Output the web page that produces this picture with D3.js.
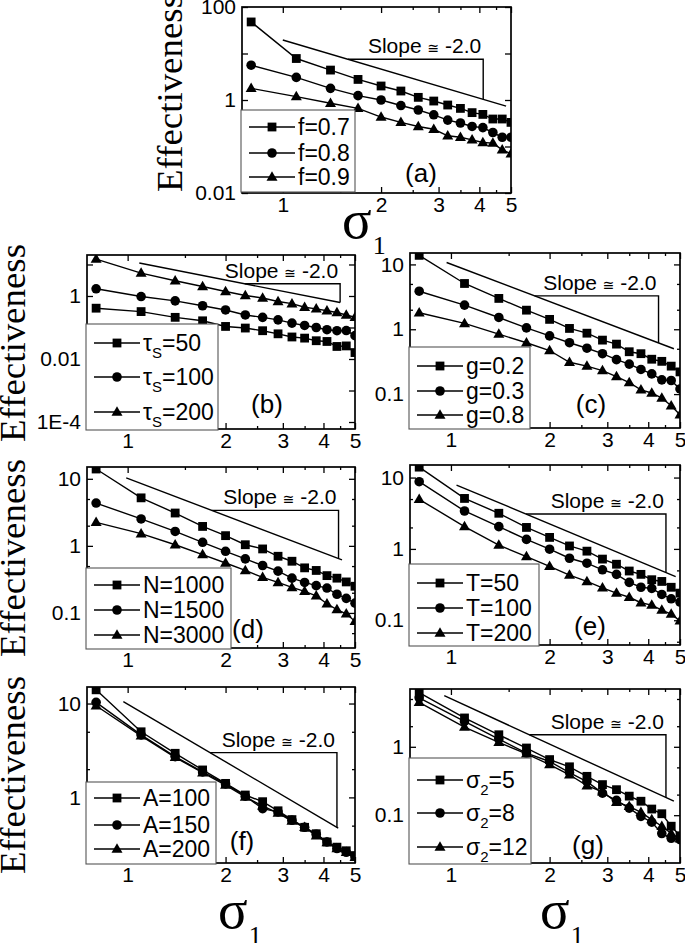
<!DOCTYPE html>
<html><head><meta charset="utf-8">
<script src="https://cdn.jsdelivr.net/npm/d3@7"></script>
<style>body{margin:0;background:#fff}svg{display:block}</style>
</head><body><svg id="c" width="685" height="943"></svg>
<script>
// ---------- data ----------
const SIGMA1 = [0.8,1.1,1.4,1.7,2.0,2.3,2.6,2.9,3.2,3.5,3.8,4.1,4.4,4.7,5.0];
const xTickValues = [1,2,3,4,5];
const xTickLabels = ["1","2","3","4","5"];
const xMinorValues = [1.5,2.5,3.5,4.5];
const slopeText = ["Slope ", "\u2245", " -2.0"];

// (a)
const aF07 = [47.7,7.8,4.4,2.77,2.0,1.56,1.14,0.95,0.78,0.66,0.535,0.49,0.39,0.39,0.33];
const aF08 = [5.6,3.06,1.78,1.24,1.0,0.76,0.61,0.48,0.37,0.32,0.27,0.255,0.20,0.158,0.158];
const aF09 = [1.78,1.18,0.85,0.66,0.43,0.33,0.27,0.235,0.17,0.158,0.139,0.122,0.118,0.085,0.07];
const legendA = ["f=0.7","f=0.8","f=0.9"];
const yTicksA = [100,1,0.01], yTickLabelsA = ["100","1","0.01"];
const slopeA = [1.0,19.5,4.83,0.74,4.11,7.5];

// (b)
const bTau50  = [0.41,0.32,0.21,0.163,0.108,0.096,0.079,0.063,0.050,0.046,0.038,0.036,0.025,0.026,0.016];
const bTau100 = [1.69,0.96,0.70,0.49,0.36,0.25,0.21,0.175,0.138,0.116,0.10,0.085,0.079,0.08,0.055];
const bTau200 = [14.8,5.3,3.04,2.0,1.39,1.04,0.86,0.67,0.57,0.44,0.39,0.34,0.30,0.25,0.21];
const legendB = ["\u03c4_S=50","\u03c4_S=100","\u03c4_S=200"];
const yTicksB = [1,0.01,1e-4], yTickLabelsB = ["1","0.01","1E-4"];
const slopeB = [1.086,11.1,4.5,0.62,4.5,2.44];

// (c)
const cG02 = [13.8,5.08,2.99,1.97,1.42,1.03,0.87,0.68,0.59,0.45,0.42,0.345,0.32,0.27,0.22];
const cG03 = [3.86,2.36,1.52,1.05,0.79,0.62,0.51,0.42,0.34,0.29,0.24,0.205,0.166,0.162,0.12];
const cG08 = [1.80,1.23,0.84,0.62,0.47,0.31,0.27,0.23,0.186,0.151,0.116,0.104,0.087,0.066,0.048];
const legendC = ["g=0.2","g=0.3","g=0.8"];
const yTicksC = [10,1,0.1], yTickLabelsC = ["10","1","0.1"];
const slopeC = [0.97,10.7,4.79,0.50,4.30,3.27];

// (d)
const dN1000 = [14.0,5.2,3.09,1.95,1.42,1.04,0.90,0.70,0.59,0.47,0.43,0.36,0.33,0.29,0.25];
const dN1500 = [4.35,2.52,1.64,1.13,0.83,0.64,0.51,0.42,0.33,0.285,0.255,0.235,0.19,0.165,0.14];
const dN3000 = [2.24,1.52,1.04,0.74,0.555,0.43,0.34,0.285,0.24,0.21,0.18,0.137,0.112,0.097,0.075];
const legendD = ["N=1000","N=1500","N=3000"];
const yTicksD = [10,1,0.1], yTickLabelsD = ["10","1","0.1"];
const slopeD = [0.99,10.3,4.56,0.62,4.45,3.38];

// (e)
const eT50  = [14.0,5.1,3.16,2.0,1.45,1.10,0.93,0.72,0.61,0.49,0.44,0.37,0.35,0.29,0.24];
const eT100 = [8.75,3.4,2.05,1.36,0.99,0.74,0.63,0.51,0.44,0.34,0.29,0.28,0.23,0.20,0.18];
const eT200 = [4.96,2.05,1.13,0.78,0.57,0.43,0.35,0.285,0.24,0.21,0.176,0.163,0.139,0.122,0.098];
const legendE = ["T=50","T=100","T=200"];
const yTicksE = [10,1,0.1], yTickLabelsE = ["10","1","0.1"];
const slopeE = [1.04,7.86,4.85,0.41,4.53,3.08];

// (f)
const fA100 = [14.0,5.0,2.95,1.96,1.41,1.06,0.90,0.72,0.58,0.48,0.41,0.335,0.295,0.27,0.24];
const fA150 = [10.3,4.64,2.72,1.87,1.39,1.03,0.76,0.70,0.57,0.48,0.405,0.335,0.285,0.26,0.235];
const fA200 = [9.46,4.52,2.67,1.83,1.35,1.01,0.81,0.68,0.56,0.48,0.39,0.33,0.285,0.26,0.23];
const legendF = ["A=100","A=150","A=200"];
const yTicksF = [10,1], yTickLabelsF = ["10","1"];
const slopeF = [0.97,10.5,4.44,0.47,4.40,3.0];

// (g)
const gS5  = [6.2,2.64,1.5,0.96,0.65,0.51,0.37,0.28,0.236,0.19,0.16,0.123,0.105,0.069,0.050];
const gS8  = [5.2,2.35,1.30,0.81,0.61,0.42,0.31,0.21,0.165,0.127,0.096,0.079,0.054,0.046,0.044];
const gS12 = [4.46,1.94,1.16,0.79,0.55,0.39,0.27,0.22,0.154,0.135,0.11,0.086,0.069,0.054,0.045];
const legendG = ["\u03c3_2=5","\u03c3_2=8","\u03c3_2=12"];
const yTicksG = [1,0.1], yTickLabelsG = ["1","0.1"];
const slopeG = [0.954,5.6,4.79,0.16,4.53,1.5];

// ---------- layout ----------
const panels = [
 {key:"a", series:[aF07,aF08,aF09], legend:legendA, yt:yTicksA, ytl:yTickLabelsA, slope:slopeA,
  box:[242,7,511,193], yDomain:[0.01,100], minor:false, leg:[241,110,114,82], rows:[17,43,67],
  letter:[421,182], ylab:[182,93], sigma:[342,238]},
 {key:"b", series:[bTau50,bTau100,bTau200], legend:legendB, yt:yTicksB, ytl:yTickLabelsB, slope:slopeB,
  box:[87,255,355,429], yDomain:[6e-5,20], minor:false, leg:[86,324,132,106], rows:[19,53,88],
  letter:[267,413], ylab:[25,343]},
 {key:"c", series:[cG02,cG03,cG08], legend:legendC, yt:yTicksC, ytl:yTickLabelsC, slope:slopeC,
  box:[410,253,680,428], yDomain:[0.03,15], minor:true, leg:[409,347,121,82], rows:[19,44,68],
  letter:[591,413]},
 {key:"d", series:[dN1000,dN1500,dN3000], legend:legendD, yt:yTicksD, ytl:yTickLabelsD, slope:slopeD,
  box:[87,467,355,648], yDomain:[0.03,15], minor:true, leg:[86,568,145,81], rows:[17,42,67],
  letter:[248,638], ylab:[25,558]},
 {key:"e", series:[eT50,eT100,eT200], legend:legendE, yt:yTicksE, ytl:yTickLabelsE, slope:slopeE,
  box:[410,465,680,645], yDomain:[0.045,15], minor:true, leg:[409,564,130,82], rows:[19,44,69],
  letter:[590,635]},
 {key:"f", series:[fA100,fA150,fA200], legend:legendF, yt:yTicksF, ytl:yTickLabelsF, slope:slopeF,
  box:[87,687,355,863], yDomain:[0.2,15], minor:true, leg:[86,782,130,82], rows:[16,43,67],
  letter:[242,850], ylab:[25,775], sigma:[218,928]},
 {key:"g", series:[gS5,gS8,gS12], legend:legendG, yt:yTicksG, ytl:yTickLabelsG, slope:slopeG,
  box:[410,689,680,863], yDomain:[0.02,7], minor:true, leg:[409,758,122,106], rows:[22,55,89],
  letter:[588,854], sigma:[540,928]}
];

const SANS = "'Liberation Sans', Arial, Helvetica, sans-serif";
const SERIF = "'Liberation Serif', 'Times New Roman', serif";
const shapes = ["square","circle","triangle"];
const svg = d3.select("#c");
const defs = svg.append("defs");

function marker(g, shape, cx, cy) {
  if (shape === "square") {
    g.append("rect").attr("x",cx-4.4).attr("y",cy-4.4).attr("width",8.8).attr("height",8.8).attr("fill","#000");
  } else if (shape === "circle") {
    g.append("circle").attr("cx",cx).attr("cy",cy).attr("r",4.8).attr("fill","#000");
  } else {
    g.append("path").attr("d",`M${cx},${cy-5.8}L${cx+5.5},${cy+3.7}L${cx-5.5},${cy+3.7}Z`).attr("fill","#000");
  }
}

function labelText(sel, str, size, subSize) {
  const m = str.match(/^(.*?)_(.)(.*)$/);
  if (!m) { sel.text(str); return; }
  sel.append("tspan").text(m[1]);
  sel.append("tspan").attr("font-size",subSize).attr("dy",7).text(m[2]);
  sel.append("tspan").attr("font-size",size).attr("dy",-7).text(m[3]);
}

function styleAxis(ax) {
  ax.select(".domain").remove();
  ax.selectAll(".tick line").attr("stroke","#000").attr("stroke-width",1.3);
  ax.selectAll(".tick text").attr("fill","#000").attr("font-family",SANS).attr("font-size",21);
}

panels.forEach(p => {
  const [L,T,R,B] = p.box;
  const x = d3.scaleLog().domain([0.75,5]).range([L,R]);
  const y = d3.scaleLog().domain(p.yDomain).range([B,T]);
  const g = svg.append("g");
  const cid = "clip-" + p.key;
  defs.append("clipPath").attr("id",cid).append("rect")
    .attr("x",L).attr("y",T).attr("width",R-L).attr("height",B-T);

  // data
  const dg = g.append("g").attr("clip-path",`url(#${cid})`);
  const line = d3.line().x((d,i)=>x(SIGMA1[i])).y(d=>y(d));
  p.series.forEach((s,k) => {
    dg.append("path").attr("d",line(s)).attr("fill","none").attr("stroke","#000").attr("stroke-width",1.4);
    s.forEach((v,i) => marker(dg, shapes[k], x(SIGMA1[i]), y(v)));
  });

  // slope guide
  const [sx1,sy1,sx2,sy2,xv,yh] = p.slope;
  const lx1=Math.log10(sx1), ly1=Math.log10(sy1), lx2=Math.log10(sx2), ly2=Math.log10(sy2);
  const yAt = v => Math.pow(10, ly1 + (ly2-ly1)*(Math.log10(v)-lx1)/(lx2-lx1));
  const xAt = v => Math.pow(10, lx1 + (lx2-lx1)*(Math.log10(v)-ly1)/(ly2-ly1));
  const sg = g.append("g").attr("stroke","#000").attr("stroke-width",1.4).attr("fill","none");
  sg.append("line").attr("x1",x(sx1)).attr("y1",y(sy1)).attr("x2",x(sx2)).attr("y2",y(sy2));
  sg.append("polyline").attr("points",
    [[x(xAt(yh)),y(yh)],[x(xv),y(yh)],[x(xv),y(yAt(xv))]].map(d=>d.join(",")).join(" "));
  const st = g.append("text").attr("x",x(xv)-2).attr("y",y(yh)-6).attr("text-anchor","end")
    .attr("font-family",SANS).attr("font-size",21).attr("fill","#000");
  st.append("tspan").text(slopeText[0]);
  st.append("tspan").attr("font-size",14).attr("font-family","'DejaVu Sans', sans-serif").text(slopeText[1]);
  st.append("tspan").text(slopeText[2]);

  // axes
  const lg10 = Math.log10;
  const decades = d3.range(Math.ceil(lg10(p.yDomain[0])-1e-9), Math.floor(lg10(p.yDomain[1])+1e-9)+1).map(k=>Math.pow(10,k));
  const minors = [];
  if (p.minor) d3.range(Math.floor(lg10(p.yDomain[0])), Math.ceil(lg10(p.yDomain[1]))+1).forEach(k=>{
    [2,5].forEach(m=>{ const v=m*Math.pow(10,k); if (v>p.yDomain[0] && v<p.yDomain[1]) minors.push(v); });
  });
  const yFmt = d => { const i = p.yt.findIndex(t => Math.abs(lg10(t)-lg10(d))<1e-6); return i>=0 ? p.ytl[i] : ""; };

  styleAxis(g.append("g").attr("transform",`translate(0,${B})`)
    .call(d3.axisBottom(x).tickValues(xTickValues).tickSize(-6).tickPadding(4).tickFormat((d,i)=>xTickLabels[i])));
  styleAxis(g.append("g").attr("transform",`translate(0,${B})`)
    .call(d3.axisBottom(x).tickValues(xMinorValues).tickSize(-3).tickFormat("")));
  styleAxis(g.append("g").attr("transform",`translate(0,${T})`)
    .call(d3.axisTop(x).tickValues(xTickValues).tickSize(-6).tickFormat("")));
  styleAxis(g.append("g").attr("transform",`translate(0,${T})`)
    .call(d3.axisTop(x).tickValues(xMinorValues).tickSize(-3).tickFormat("")));
  styleAxis(g.append("g").attr("transform",`translate(${L},0)`)
    .call(d3.axisLeft(y).tickValues(decades).tickSize(-6).tickPadding(6).tickFormat(yFmt)));
  styleAxis(g.append("g").attr("transform",`translate(${L},0)`)
    .call(d3.axisLeft(y).tickValues(minors).tickSize(-3).tickFormat("")));
  styleAxis(g.append("g").attr("transform",`translate(${R},0)`)
    .call(d3.axisRight(y).tickValues(decades).tickSize(-6).tickFormat("")));
  styleAxis(g.append("g").attr("transform",`translate(${R},0)`)
    .call(d3.axisRight(y).tickValues(minors).tickSize(-3).tickFormat("")));

  g.append("rect").attr("x",L).attr("y",T).attr("width",R-L).attr("height",B-T)
    .attr("fill","none").attr("stroke","#000").attr("stroke-width",1.7);

  // legend
  const [lx,ly,lw,lh] = p.leg;
  const lgd = g.append("g");
  lgd.append("rect").attr("x",lx).attr("y",ly).attr("width",lw).attr("height",lh)
    .attr("fill","#fff").attr("stroke","#555").attr("stroke-width",1.1);
  p.legend.forEach((lab,k) => {
    const ry = ly + p.rows[k];
    lgd.append("line").attr("x1",lx+8).attr("x2",lx+54).attr("y1",ry).attr("y2",ry)
      .attr("stroke","#000").attr("stroke-width",1.4);
    marker(lgd, shapes[k], lx+31, ry);
    const t = lgd.append("text").attr("x",lx+57).attr("y",ry+8)
      .attr("font-family",SANS).attr("font-size",23).attr("fill","#000");
    labelText(t, lab, 23, 15);
  });

  // panel letter
  g.append("text").attr("x",p.letter[0]).attr("y",p.letter[1]).attr("text-anchor","middle")
    .attr("font-family",SANS).attr("font-size",26).attr("fill","#000").text(`(${p.key})`);

  // y title
  if (p.ylab) {
    g.append("text").attr("transform",`translate(${p.ylab[0]},${p.ylab[1]}) rotate(-90)`)
      .attr("text-anchor","middle").attr("font-family",SERIF).attr("font-size",36)
      .attr("textLength",198).attr("lengthAdjust","spacingAndGlyphs").attr("fill","#000")
      .text("Effectiveness");
  }
  // x title
  if (p.sigma) {
    const t = g.append("text").attr("x",p.sigma[0]).attr("y",p.sigma[1])
      .attr("font-family",SERIF).attr("font-size",55).attr("fill","#000");
    t.append("tspan").text("\u03c3");
    t.append("tspan").attr("font-size",26).attr("dy",16).attr("dx",1).text("1");
  }
});
</script>
</body></html>
